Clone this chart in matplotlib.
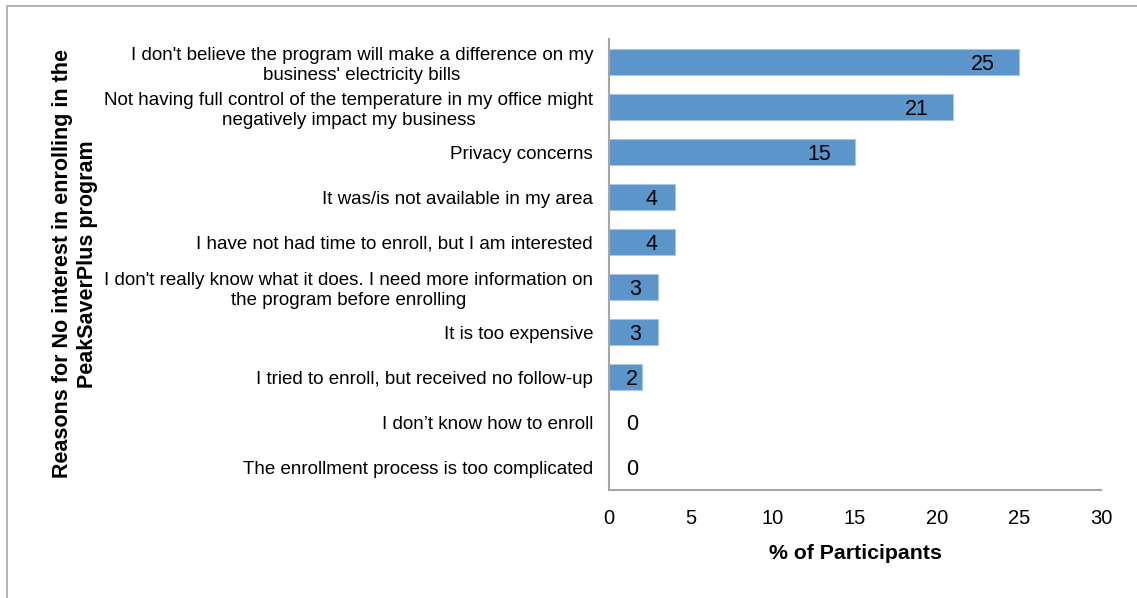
import matplotlib.pyplot as plt
from matplotlib.patches import Rectangle

plt.rcParams['font.family'] = ['Liberation Sans', 'DejaVu Sans']

reasons = [
    "I don't believe the program will make a difference on my\nbusiness' electricity bills",
    "Not having full control of the temperature in my office might\nnegatively impact my business",
    "Privacy concerns",
    "It was/is not available in my area",
    "I have not had time to enroll, but I am interested",
    "I don't really know what it does. I need more information on\nthe program before enrolling",
    "It is too expensive",
    "I tried to enroll, but received no follow-up",
    "I don\u2019t know how to enroll",
    "The enrollment process is too complicated",
]
percent = [25, 21, 15, 4, 4, 3, 3, 2, 0, 0]

fig = plt.figure(figsize=(11.37, 5.98), dpi=100)
ax = fig.add_axes([0.5356, 0.1806, 0.4327, 0.7534])

# outer frame around the whole chart area
fig.patches.append(Rectangle((7 / 1137, -0.05), 1.1, 1.05 - 6 / 598,
                             transform=fig.transFigure, fill=False,
                             edgecolor='#a6a6a6', linewidth=1.2))

y = list(range(len(reasons)))
ax.barh(y, percent, height=0.58, color='#5b95c9', edgecolor='#a9c6e3', linewidth=0.8)

for yi, v in zip(y, percent):
    lx = v - 2.2 if v > 10 else max(v - 1.4, 1.4)
    ax.text(lx, yi, str(v), ha='center', va='center_baseline', fontsize=15.5, color='black')

ax.set_ylim(len(reasons) - 0.5, -0.5)
ax.set_xlim(0, 30)
ax.set_xticks(range(0, 31, 5))
ax.set_yticks(y)
ax.set_yticklabels(reasons, fontsize=13.5, multialignment='center', linespacing=1.2)
ax.tick_params(axis='y', length=0, pad=11.5)
ax.tick_params(axis='x', length=0, pad=14, labelsize=14.5)

for side in ('top', 'right'):
    ax.spines[side].set_visible(False)
for side in ('left', 'bottom'):
    ax.spines[side].set_color('#a6a6a6')
    ax.spines[side].set_linewidth(1.5)

ax.set_xlabel('% of Participants', fontsize=15.3, fontweight='bold', labelpad=11)
fig.text(75 / 1137, 1 - 264 / 598,
         'Reasons for No interest in enrolling in the\nPeakSaverPlus program',
         rotation=90, ha='center', va='center', fontsize=15.5, fontweight='bold',
         linespacing=1.3)

fig.savefig('out.png', dpi=100)
